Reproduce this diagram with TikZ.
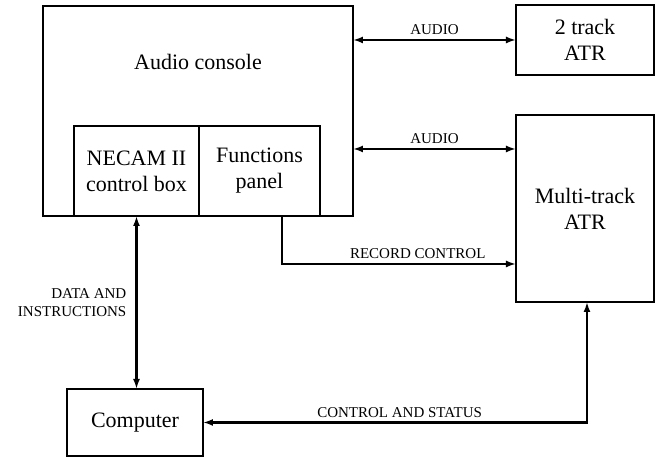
\documentclass[tikz,border=0pt]{standalone}
\usepackage{fontspec}
\setmainfont{Liberation Serif}
\usetikzlibrary{positioning, arrows.meta}

\begin{document}
\begin{tikzpicture}[x=0.5pt, y=-0.5pt, >={Latex[length=5pt,width=3.5pt]},
        font=\fontsize{11}{13}\selectfont,
        block/.style = {draw, line width=0.8pt, rectangle, outer sep=0pt, align=center},
        link/.style = {line width=1.2pt},
        tag/.style = {font=\fontsize{7.5}{9}\selectfont, inner sep=2pt},
        ]
        \useasboundingbox (0,0) rectangle (661,458);
        \node [block, minimum width=155pt, minimum height=105pt,
            label={[anchor=center, yshift=-28pt]north:Audio console}] (console) at (198,111) {};
        \node [block, minimum width=62.5pt, minimum height=45pt] (necam) at (136.5,171) {NECAM II\\control box};
        \node [block, minimum width=60.5pt, minimum height=45pt, right=0pt of necam] (funcs) {Functions\\panel};
        \node [block, minimum width=69pt, minimum height=35pt] (twotrack) at (585,40) {2 track\\ATR};
        \node [block, minimum width=69pt, minimum height=93.5pt] (multi) at (585,208.5) {Multi-track\\ATR};
        \node [block, minimum width=68pt, minimum height=33.5pt] (computer) at (135,422.5) {Computer};
        \coordinate (audio2) at ([yshift=29.75pt]multi.west);

        \draw [link, <->] (console.east |- twotrack) -- node [tag, above] {AUDIO} (twotrack.west);
        \draw [link, <->] (console.east |- audio2) -- node [tag, above] {AUDIO} (audio2);
        \draw [link, ->] ([xshift=11.25pt]funcs.south) |- node [tag, above, pos=0.79] {RECORD CONTROL} ([yshift=-27.75pt]multi.west);
        \draw [link, <->] (necam.south) -- node [tag, left=2.5pt, align=right] {DATA AND\\INSTRUCTIONS} (necam.south |- computer.north);
        \draw [link, <->] (computer.east) -| node [tag, above, pos=0.256] {CONTROL AND STATUS} ([xshift=1pt]multi.south);
    \end{tikzpicture}
\end{document}
